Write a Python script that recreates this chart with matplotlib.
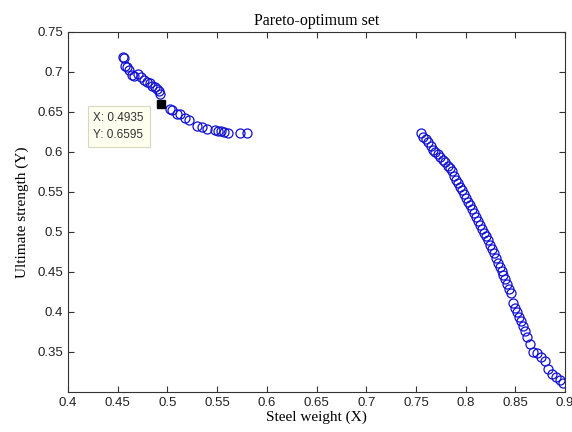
import matplotlib
import matplotlib.pyplot as plt

matplotlib.use('Agg')

# left branch of the Pareto front
x_left = [0.455, 0.456, 0.457, 0.459, 0.461, 0.464, 0.466, 0.470, 0.473, 0.476,
          0.479, 0.482, 0.484, 0.487, 0.489, 0.491, 0.492, 0.503, 0.505, 0.510,
          0.513, 0.518, 0.522, 0.530, 0.535, 0.540, 0.548, 0.551, 0.554, 0.557,
          0.561, 0.573, 0.580]
y_left = [0.719, 0.717, 0.708, 0.706, 0.703, 0.696, 0.695, 0.697, 0.694, 0.690,
          0.688, 0.686, 0.683, 0.681, 0.679, 0.676, 0.673, 0.654, 0.652, 0.648,
          0.647, 0.643, 0.640, 0.633, 0.631, 0.629, 0.627, 0.626, 0.626, 0.625,
          0.624, 0.624, 0.624]

# right branch of the Pareto front
x_right = [0.755, 0.757, 0.760, 0.762, 0.765, 0.767, 0.769, 0.772, 0.774, 0.777,
           0.779, 0.782, 0.784, 0.786, 0.788, 0.790, 0.792, 0.794, 0.796, 0.798,
           0.800, 0.802, 0.804, 0.806, 0.808, 0.810, 0.812, 0.814, 0.816, 0.818,
           0.820, 0.822, 0.824, 0.826, 0.828, 0.830, 0.832, 0.834, 0.836, 0.838,
           0.840, 0.842, 0.844, 0.846, 0.848, 0.850, 0.852, 0.854, 0.856, 0.858,
           0.860, 0.862, 0.865, 0.868, 0.872, 0.876, 0.880, 0.883, 0.887, 0.891,
           0.895, 0.898]
y_right = [0.624, 0.619, 0.616, 0.612, 0.607, 0.603, 0.600, 0.598, 0.594, 0.590,
           0.587, 0.583, 0.580, 0.576, 0.570, 0.565, 0.561, 0.556, 0.552, 0.547,
           0.543, 0.538, 0.533, 0.528, 0.523, 0.518, 0.513, 0.508, 0.503, 0.499,
           0.495, 0.490, 0.484, 0.479, 0.474, 0.467, 0.461, 0.456, 0.451, 0.446,
           0.441, 0.435, 0.428, 0.423, 0.411, 0.405, 0.400, 0.394, 0.388, 0.382,
           0.376, 0.368, 0.360, 0.350, 0.348, 0.343, 0.338, 0.329, 0.322, 0.318,
           0.315, 0.311]

tip_x = 0.4935
tip_y = 0.6595

fig = plt.figure(figsize=(5.72, 4.32), dpi=100)
ax = fig.add_axes([0.119, 0.093, 0.869, 0.833])

blue = '#1010d0'
ax.plot(x_left, y_left, 'o', mfc='none', mec=blue, ms=6.5, mew=0.9)
ax.plot(x_right, y_right, 'o', mfc='none', mec=blue, ms=6.5, mew=0.9)

# data tip
ax.plot(tip_x, tip_y, 's', color='black', ms=6)
ax.text(0.4255, 0.6495, 'X: %.4f\nY: %.4f' % (tip_x, tip_y),
        ha='left', va='top', fontsize=8.5, family='Liberation Sans',
        color='#333333', linespacing=1.55,
        bbox=dict(boxstyle='square,pad=0.5', fc='#fffff0', ec='#d8d8c0', lw=0.8))

ax.set_xlim(0.4, 0.9)
ax.set_ylim(0.30, 0.75)
ax.set_xticks([0.4, 0.45, 0.5, 0.55, 0.6, 0.65, 0.7, 0.75, 0.8, 0.85, 0.9])
ax.set_xticklabels(['0.4', '0.45', '0.5', '0.55', '0.6', '0.65', '0.7', '0.75',
                    '0.8', '0.85', '0.9'])
ax.set_yticks([0.35, 0.4, 0.45, 0.5, 0.55, 0.6, 0.65, 0.7, 0.75])
ax.set_yticklabels(['0.35', '0.4', '0.45', '0.5', '0.55', '0.6', '0.65', '0.7', '0.75'])
ax.tick_params(direction='in', top=True, right=True, length=4, width=0.8,
               labelsize=9.5, colors='#333333', labelcolor='#222222')
for lbl in ax.get_xticklabels() + ax.get_yticklabels():
    lbl.set_family('Liberation Sans')
for sp in ax.spines.values():
    sp.set_linewidth(0.8)
    sp.set_color('#333333')

ax.set_title('Pareto-optimum set', family='Liberation Serif', fontsize=11.5, pad=5)
ax.set_xlabel('Steel weight (X)', family='Liberation Serif', fontsize=11, labelpad=1)
ax.set_ylabel('Ultimate strength (Y)', family='Liberation Serif', fontsize=11, labelpad=6)

plt.savefig('out.png', dpi=100)
